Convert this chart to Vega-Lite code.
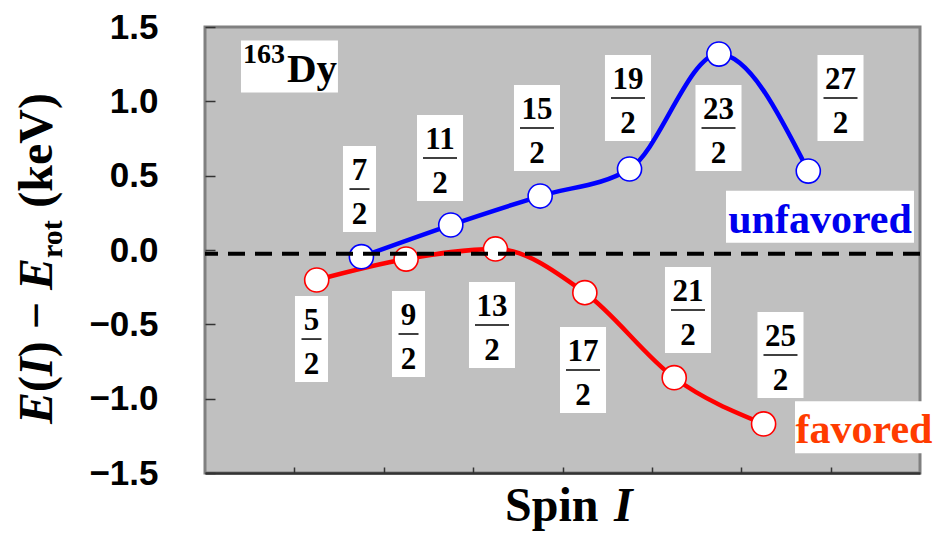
{
  "$schema": "https://vega.github.io/schema/vega-lite/v6.json",
  "width": 715,
  "height": 446,
  "autosize": {"type": "none"},
  "padding": {"left": 205, "top": 27, "right": 16, "bottom": 61},
  "background": "white",
  "config": {
    "view": {"fill": "#c0c0c0", "stroke": "#808080", "strokeWidth": 3}
  },
  "datasets": {
    "points": [
      {"spin": 2.5, "E": -0.202, "branch": "favored"},
      {"spin": 4.5, "E": -0.061, "branch": "favored"},
      {"spin": 6.5, "E": 0.007, "branch": "favored"},
      {"spin": 8.5, "E": -0.287, "branch": "favored"},
      {"spin": 10.5, "E": -0.859, "branch": "favored"},
      {"spin": 12.5, "E": -1.170, "branch": "favored"},
      {"spin": 3.5, "E": -0.045, "branch": "unfavored"},
      {"spin": 5.5, "E": 0.168, "branch": "unfavored"},
      {"spin": 7.5, "E": 0.363, "branch": "unfavored"},
      {"spin": 9.5, "E": 0.545, "branch": "unfavored"},
      {"spin": 11.5, "E": 1.318, "branch": "unfavored"},
      {"spin": 13.5, "E": 0.531, "branch": "unfavored"}
    ],
    "labels": [
      {"num": 5, "den": 2, "spin": 2.383, "E": -0.599},
      {"num": 9, "den": 2, "spin": 4.554, "E": -0.565},
      {"num": 13, "den": 2, "spin": 6.422, "E": -0.504},
      {"num": 17, "den": 2, "spin": 8.459, "E": -0.807},
      {"num": 21, "den": 2, "spin": 10.808, "E": -0.404},
      {"num": 25, "den": 2, "spin": 12.878, "E": -0.706},
      {"num": 7, "den": 2, "spin": 3.457, "E": 0.410},
      {"num": 11, "den": 2, "spin": 5.259, "E": 0.619},
      {"num": 15, "den": 2, "spin": 7.429, "E": 0.821},
      {"num": 19, "den": 2, "spin": 9.465, "E": 1.022},
      {"num": 23, "den": 2, "spin": 11.491, "E": 0.821},
      {"num": 27, "den": 2, "spin": 14.221, "E": 1.022}
    ],
    "branches": [
      {"branch": "unfavored", "spin": 13.762, "E": 0.223},
      {"branch": "favored", "spin": 14.747, "E": -1.193}
    ],
    "nucleus": [{"spin": 1.89, "E": 1.235}],
    "anchor": [{"spin": 0, "E": -1.5}],
    "reference": [{"E": -0.025}]
  },
  "layer": [
    {
      "data": {"name": "points"},
      "mark": {"type": "line", "strokeWidth": 4.5, "interpolate": "monotone"},
      "encoding": {
        "x": {"field": "spin", "type": "quantitative",
              "scale": {"domain": [0, 16], "nice": false, "zero": false},
              "axis": {"values": [2, 4, 6, 8, 10, 12, 14], "labels": false, "title": null, "grid": false,
                       "tickSize": -6, "tickColor": "#333333", "tickWidth": 1.5,
                       "domainColor": "#333333", "domainWidth": 2.5}},
        "y": {"field": "E", "type": "quantitative",
              "scale": {"domain": [-1.5, 1.5], "nice": false, "zero": false},
              "axis": {"values": [-1.5, -1, -0.5, 0, 0.5, 1, 1.5], "format": ".1f", "title": null, "grid": false,
                       "domain": false, "tickSize": -10, "tickColor": "#333333", "tickWidth": 1.5,
                       "labelPadding": 57, "labelFont": "Liberation Sans", "labelFontWeight": "bold",
                       "labelFontSize": 35, "labelColor": "black", "labelFlush": false, "labelOverlap": false}},
        "color": {"field": "branch", "type": "nominal",
                  "scale": {"domain": ["favored", "unfavored"], "range": ["#ff0000", "#0000ff"]},
                  "legend": null}
      }
    },
    {
      "data": {"name": "points"},
      "mark": {"type": "point", "shape": "circle", "size": 580, "filled": false, "fill": "white",
               "fillOpacity": 1, "opacity": 1, "strokeWidth": 1.6},
      "encoding": {
        "x": {"field": "spin", "type": "quantitative"},
        "y": {"field": "E", "type": "quantitative"},
        "stroke": {"field": "branch", "type": "nominal",
                   "scale": {"domain": ["favored", "unfavored"], "range": ["#ff0000", "#0000ff"]},
                   "legend": null}
      }
    },
    {
      "data": {"name": "reference"},
      "mark": {"type": "rule", "color": "black", "strokeWidth": 4, "strokeDash": [17, 10]},
      "encoding": {"y": {"field": "E", "type": "quantitative"}}
    },
    {
      "data": {"name": "labels"},
      "transform": [{"filter": "datum.num < 10"}],
      "mark": {"type": "point", "shape": "M-0.384,-1H0.384V1H-0.384Z", "size": 7396, "filled": true,
               "color": "white", "opacity": 1, "strokeWidth": 0},
      "encoding": {"x": {"field": "spin", "type": "quantitative"}, "y": {"field": "E", "type": "quantitative"}}
    },
    {
      "data": {"name": "labels"},
      "transform": [{"filter": "datum.num >= 10"}],
      "mark": {"type": "point", "shape": "M-0.535,-1H0.535V1H-0.535Z", "size": 7396, "filled": true,
               "color": "white", "opacity": 1, "strokeWidth": 0},
      "encoding": {"x": {"field": "spin", "type": "quantitative"}, "y": {"field": "E", "type": "quantitative"}}
    },
    {
      "data": {"name": "labels"},
      "transform": [{"filter": "datum.num < 10"}],
      "mark": {"type": "point", "shape": "M-1,0H1", "size": 400, "filled": false,
               "color": "black", "opacity": 1, "strokeWidth": 1.5},
      "encoding": {"x": {"field": "spin", "type": "quantitative"}, "y": {"field": "E", "type": "quantitative"}}
    },
    {
      "data": {"name": "labels"},
      "transform": [{"filter": "datum.num >= 10"}],
      "mark": {"type": "point", "shape": "M-1,0H1", "size": 1156, "filled": false,
               "color": "black", "opacity": 1, "strokeWidth": 1.5},
      "encoding": {"x": {"field": "spin", "type": "quantitative"}, "y": {"field": "E", "type": "quantitative"}}
    },
    {
      "data": {"name": "labels"},
      "mark": {"type": "text", "font": "Liberation Serif", "fontWeight": "bold", "fontSize": 31,
               "align": "center", "baseline": "alphabetic", "dy": -9, "color": "black"},
      "encoding": {"x": {"field": "spin", "type": "quantitative"}, "y": {"field": "E", "type": "quantitative"},
                   "text": {"field": "num", "type": "nominal"}}
    },
    {
      "data": {"name": "labels"},
      "mark": {"type": "text", "font": "Liberation Serif", "fontWeight": "bold", "fontSize": 31,
               "align": "center", "baseline": "alphabetic", "dy": 35, "color": "black"},
      "encoding": {"x": {"field": "spin", "type": "quantitative"}, "y": {"field": "E", "type": "quantitative"},
                   "text": {"field": "den", "type": "nominal"}}
    },
    {
      "data": {"name": "nucleus"},
      "mark": {"type": "point", "shape": "M-1.865,-1H1.865V1H-1.865Z", "size": 2704, "filled": true,
               "color": "white", "opacity": 1, "strokeWidth": 0},
      "encoding": {"x": {"field": "spin", "type": "quantitative"}, "y": {"field": "E", "type": "quantitative"}}
    },
    {
      "data": {"name": "nucleus"},
      "mark": {"type": "text", "text": "163", "font": "Liberation Serif", "fontWeight": "bold", "fontSize": 28,
               "align": "right", "baseline": "alphabetic", "dx": -4.5, "dy": -3, "color": "black"},
      "encoding": {"x": {"field": "spin", "type": "quantitative"}, "y": {"field": "E", "type": "quantitative"}}
    },
    {
      "data": {"name": "nucleus"},
      "mark": {"type": "text", "text": "Dy", "font": "Liberation Serif", "fontWeight": "bold", "fontSize": 41,
               "align": "left", "baseline": "alphabetic", "dx": -2.5, "dy": 15.7, "color": "black"},
      "encoding": {"x": {"field": "spin", "type": "quantitative"}, "y": {"field": "E", "type": "quantitative"}}
    },
    {
      "data": {"name": "branches"},
      "mark": {"type": "point", "size": 2704, "filled": true, "color": "white", "opacity": 1, "strokeWidth": 0},
      "encoding": {"x": {"field": "spin", "type": "quantitative"}, "y": {"field": "E", "type": "quantitative"},
                   "shape": {"field": "branch", "type": "nominal",
                             "scale": {"domain": ["favored", "unfavored"],
                                       "range": ["M-2.654,-1H2.654V1H-2.654Z", "M-3.615,-1H3.615V1H-3.615Z"]},
                             "legend": null}}
    },
    {
      "data": {"name": "branches"},
      "mark": {"type": "text", "font": "Liberation Serif", "fontWeight": "bold", "fontSize": 42,
               "align": "center", "baseline": "alphabetic", "dy": 16},
      "encoding": {"x": {"field": "spin", "type": "quantitative"}, "y": {"field": "E", "type": "quantitative"},
                   "text": {"field": "branch", "type": "nominal"},
                   "color": {"condition": {"test": "datum.branch === 'favored'", "value": "#ff3c00"}, "value": "#0000ee"}}
    },
    {
      "data": {"name": "anchor"},
      "mark": {"type": "text", "text": "Spin", "font": "Liberation Serif", "fontWeight": "bold", "fontSize": 48,
               "align": "left", "baseline": "alphabetic", "dx": 300, "dy": 48, "color": "black"},
      "encoding": {"x": {"field": "spin", "type": "quantitative"}, "y": {"field": "E", "type": "quantitative"}}
    },
    {
      "data": {"name": "anchor"},
      "mark": {"type": "text", "text": "I", "font": "Liberation Serif", "fontWeight": "bold", "fontStyle": "italic", "fontSize": 48,
               "align": "left", "baseline": "alphabetic", "dx": 409, "dy": 48, "color": "black"},
      "encoding": {"x": {"field": "spin", "type": "quantitative"}, "y": {"field": "E", "type": "quantitative"}}
    },
    {
      "data": {"name": "anchor"},
      "mark": {"type": "text", "text": "E", "angle": 270, "font": "Liberation Serif", "fontWeight": "bold", "fontStyle": "italic", "fontSize": 48,
               "align": "left", "baseline": "alphabetic", "dx": 49, "dy": -153, "color": "black"},
      "encoding": {"x": {"field": "spin", "type": "quantitative"}, "y": {"field": "E", "type": "quantitative"}}
    },
    {
      "data": {"name": "anchor"},
      "mark": {"type": "text", "text": "(", "angle": 270, "font": "Liberation Serif", "fontWeight": "bold", "fontSize": 48,
               "align": "left", "baseline": "alphabetic", "dx": 81, "dy": -153, "color": "black"},
      "encoding": {"x": {"field": "spin", "type": "quantitative"}, "y": {"field": "E", "type": "quantitative"}}
    },
    {
      "data": {"name": "anchor"},
      "mark": {"type": "text", "text": "I", "angle": 270, "font": "Liberation Serif", "fontWeight": "bold", "fontStyle": "italic", "fontSize": 48,
               "align": "left", "baseline": "alphabetic", "dx": 97, "dy": -153, "color": "black"},
      "encoding": {"x": {"field": "spin", "type": "quantitative"}, "y": {"field": "E", "type": "quantitative"}}
    },
    {
      "data": {"name": "anchor"},
      "mark": {"type": "text", "text": ") −", "angle": 270, "font": "Liberation Serif", "fontWeight": "bold", "fontSize": 48,
               "align": "left", "baseline": "alphabetic", "dx": 115.7, "dy": -153, "color": "black"},
      "encoding": {"x": {"field": "spin", "type": "quantitative"}, "y": {"field": "E", "type": "quantitative"}}
    },
    {
      "data": {"name": "anchor"},
      "mark": {"type": "text", "text": "E", "angle": 270, "font": "Liberation Serif", "fontWeight": "bold", "fontStyle": "italic", "fontSize": 48,
               "align": "left", "baseline": "alphabetic", "dx": 183, "dy": -153, "color": "black"},
      "encoding": {"x": {"field": "spin", "type": "quantitative"}, "y": {"field": "E", "type": "quantitative"}}
    },
    {
      "data": {"name": "anchor"},
      "mark": {"type": "text", "text": "rot", "angle": 270, "font": "Liberation Serif", "fontWeight": "bold", "fontSize": 30,
               "align": "left", "baseline": "alphabetic", "dx": 215, "dy": -143, "color": "black"},
      "encoding": {"x": {"field": "spin", "type": "quantitative"}, "y": {"field": "E", "type": "quantitative"}}
    },
    {
      "data": {"name": "anchor"},
      "mark": {"type": "text", "text": "(keV)", "angle": 270, "font": "Liberation Serif", "fontWeight": "bold", "fontSize": 48,
               "align": "left", "baseline": "alphabetic", "dx": 265.3, "dy": -153, "color": "black"},
      "encoding": {"x": {"field": "spin", "type": "quantitative"}, "y": {"field": "E", "type": "quantitative"}}
    }
  ]
}
